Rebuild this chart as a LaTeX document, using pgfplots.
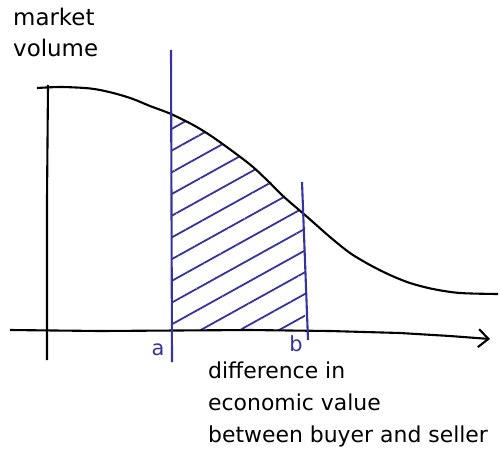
\documentclass[border=0pt]{standalone}
\usepackage{pgfplots}
\pgfplotsset{compat=1.18}
\usetikzlibrary{patterns.meta,arrows.meta}
\usepackage{fontspec}
\setmainfont{DejaVu Sans}
\definecolor{penblue}{RGB}{52,52,160}
\begin{document}
\begin{tikzpicture}
\begin{axis}[
  name=ax,
  width=500bp, height=463bp, scale only axis,
  xmin=0, xmax=500, ymin=0, ymax=463, y dir=reverse,
  hide axis, clip=false,
]
% hatched area between a and b under the curve
\addplot[draw=none, pattern={Lines[angle=29,distance=19bp,line width=1.8bp]}, pattern color=penblue]
 coordinates {(172,330) (172,114) (195,126) (217,140) (235,153) (253,167) (270,181) (283,196) (305,215) (305,330)} -- cycle;
% curve
\addplot[black, line width=2.1bp, smooth, tension=0.5] coordinates {
 (37,88) (60,87) (85,88) (100,90) (117,94) (133,99) (150,106) (171,114) (195,126) (217,140) (253,167) (283,196) (305,215) (330,237) (350,253) (370,265) (390,275) (410,283) (433,289) (460,293) (498,294)};
% y axis
\addplot[black, line width=2.1bp] coordinates {(48,85) (47,200) (47,360)};
% x axis
\addplot[black, line width=2.1bp, -{Straight Barb[length=10bp,width=18bp]}] coordinates {(10,330) (100,331) (250,330) (330,331) (400,333) (450,336) (490,339)};
% a and b lines
\addplot[penblue, line width=2.1bp] coordinates {(171,50) (172,362)};
\addplot[penblue, line width=2.1bp] coordinates {(302,182) (308,340)};
\node[penblue, font=\fontsize{21}{24}\selectfont] at (axis cs:158,350) {a};
\node[penblue, font=\fontsize{21}{24}\selectfont] at (axis cs:296,344) {b};
\node[anchor=north west, align=left, font=\fontsize{23}{31}\selectfont, inner sep=0pt] at (axis cs:13,8) {market\\volume};
\node[anchor=north west, align=left, font=\fontsize{22}{32}\selectfont, inner sep=0pt] at (axis cs:208,362) {difference in\\economic value\\between buyer and seller};
\end{axis}
\pgfresetboundingbox
\path[use as bounding box] (ax.south west) rectangle (ax.north east);
\end{tikzpicture}
\end{document}
